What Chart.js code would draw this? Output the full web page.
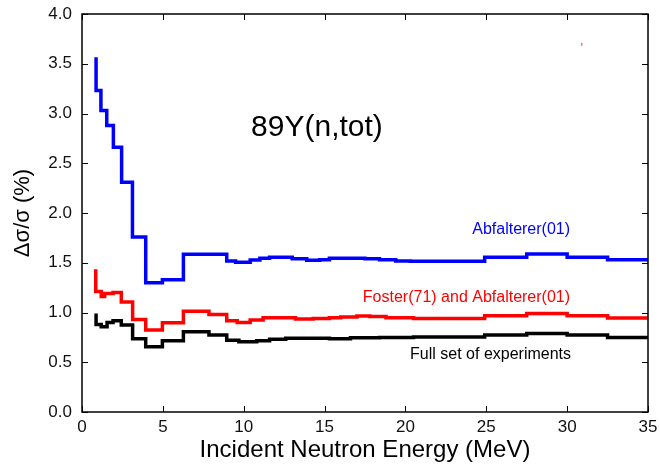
<!DOCTYPE html>
<html>
<head>
<meta charset="utf-8">
<script src="https://cdn.jsdelivr.net/npm/chart.js@4/dist/chart.umd.min.js"></script>
<style>
  html, body { margin: 0; padding: 0; background: #fff; }
  #wrap { width: 660px; height: 468px; }
</style>
</head>
<body>
<div id="wrap"><canvas id="uncChart" width="660" height="468"></canvas></div>
<script>
// Energy bin edges (MeV) and relative uncertainty (%).
// value i holds between edge i-1 and edge i, value 0 is the starting spike
var abfEnergy = [0.87, 1.17, 1.53, 1.94, 2.45, 3.12, 3.94, 4.97, 6.27, 8.95, 9.5, 10.4, 11.0, 11.6, 12.2, 13.0, 13.9, 14.7, 15.3, 16.6, 17.5, 18.4, 19.4, 20.3, 24.9, 27.5, 30.0, 32.5, 35];
var abfUnc    = [3.565, 3.23, 3.03, 2.88, 2.66, 2.31, 1.76, 1.30, 1.33, 1.585, 1.517, 1.505, 1.528, 1.545, 1.555, 1.555, 1.54, 1.525, 1.53, 1.545, 1.545, 1.54, 1.53, 1.517, 1.515, 1.555, 1.588, 1.555, 1.53];

var fosEnergy = [0.85, 1.19, 1.40, 1.92, 2.43, 3.13, 3.94, 4.97, 6.27, 7.85, 8.95, 9.6, 10.4, 11.2, 12.2, 13.2, 14.3, 15.3, 16.0, 17.0, 17.8, 18.8, 20.5, 22.8, 24.9, 27.5, 30.0, 32.5, 35];
var fosUnc    = [1.434, 1.21, 1.16, 1.19, 1.20, 1.105, 0.93, 0.825, 0.898, 1.012, 0.98, 0.918, 0.90, 0.925, 0.948, 0.948, 0.935, 0.94, 0.948, 0.955, 0.965, 0.96, 0.948, 0.94, 0.94, 0.968, 0.99, 0.968, 0.945];

var allEnergy = [0.87, 1.19, 1.55, 1.92, 2.43, 3.13, 3.94, 4.97, 6.27, 7.85, 8.95, 9.7, 10.8, 11.6, 12.6, 14.0, 15.3, 16.6, 18.4, 20.5, 22.8, 24.9, 27.5, 30.0, 32.5, 35];
var allUnc    = [0.99, 0.88, 0.857, 0.90, 0.917, 0.874, 0.735, 0.656, 0.717, 0.807, 0.774, 0.722, 0.707, 0.717, 0.73, 0.74, 0.74, 0.737, 0.745, 0.75, 0.755, 0.755, 0.774, 0.79, 0.774, 0.75];

// stray red mark near the top right
var strayEnergy = [30.9, 30.9];
var strayUnc    = [3.68, 3.71];

var xTicks = [0, 5, 10, 15, 20, 25, 30, 35];
var yTicks = [0, 0.5, 1.0, 1.5, 2.0, 2.5, 3.0, 3.5, 4.0];

var FONT = '"Liberation Sans", Arial, Helvetica, sans-serif';

// text labels inside the plot, placed in data coordinates
var notes = [
    { text: '89Y(n,tot)', x: 14.53, y: 2.86, color: '#000', size: 30, align: 'center' },
    { text: 'Abfalterer(01)', x: 30.18, y: 1.83, color: '#0000ff', size: 16, align: 'right' },
    { text: 'Foster(71) and Abfalterer(01)', x: 30.18, y: 1.146, color: '#ff0000', size: 16, align: 'right' },
    { text: 'Full set of experiments', x: 30.24, y: 0.573, color: '#000', size: 16, align: 'right' }
];

function _toPoints(xs, ys){
    var pts = [];
    for (var i = 0; i < xs.length; i++){
        pts.push({ x: xs[i], y: ys[i] });
    }
    return pts;
}

// histogram corners: jump at the left edge, flat to the right edge
function _binPoints(xs, ys){
    var pts = [{ x: xs[0], y: ys[0] }];
    for (var i = 1; i < xs.length; i++){
        pts.push({ x: xs[i - 1], y: ys[i] });
        pts.push({ x: xs[i], y: ys[i] });
    }
    return pts;
}

function _stepSet(label, xs, ys, color){
    return {
        label: label,
        data: _binPoints(xs, ys),
        borderColor: color,
        backgroundColor: color,
        borderWidth: 3.5,
        pointRadius: 0,
        fill: false
    };
}

function _noPad(scale){
    scale.paddingTop = 0;
    scale.paddingBottom = 0;
    scale.paddingLeft = 0;
    scale.paddingRight = 0;
}

// box around plot area and inward pointing ticks, plus the text notes
var framePlugin = {
    id: 'frame',
    afterDatasetsDraw: function(chart){
        var ctx = chart.ctx;
        var a = chart.chartArea;
        var xs = chart.scales.x, ys = chart.scales.y;
        var tl = 6;
        ctx.save();
        ctx.strokeStyle = '#000';
        ctx.lineWidth = 1.5;
        ctx.strokeRect(a.left, a.top, a.right - a.left, a.bottom - a.top);
        ctx.lineWidth = 1;
        ctx.beginPath();
        xTicks.forEach(function(v){
            var px = Math.round(xs.getPixelForValue(v)) + 0.5;
            ctx.moveTo(px, a.bottom); ctx.lineTo(px, a.bottom - tl);
            ctx.moveTo(px, a.top); ctx.lineTo(px, a.top + tl);
        });
        yTicks.forEach(function(v){
            var py = Math.round(ys.getPixelForValue(v)) + 0.5;
            ctx.moveTo(a.left, py); ctx.lineTo(a.left + tl, py);
            ctx.moveTo(a.right, py); ctx.lineTo(a.right - tl, py);
        });
        ctx.stroke();

        ctx.textBaseline = 'middle';
        notes.forEach(function(n){
            ctx.font = n.size + 'px ' + FONT;
            ctx.fillStyle = n.color;
            ctx.textAlign = n.align;
            ctx.fillText(n.text, xs.getPixelForValue(n.x), ys.getPixelForValue(n.y));
        });
        ctx.restore();
    }
};

new Chart(document.getElementById('uncChart'), {
    type: 'line',
    data: {
        datasets: [
            _stepSet('Abfalterer(01)', abfEnergy, abfUnc, '#0000ff'),
            _stepSet('Foster(71) and Abfalterer(01)', fosEnergy, fosUnc, '#ff0000'),
            _stepSet('Full set of experiments', allEnergy, allUnc, '#000000'),
            {
                label: 'stray',
                data: _toPoints(strayEnergy, strayUnc),
                borderColor: 'rgba(255,80,80,0.8)',
                borderWidth: 1.5,
                pointRadius: 0
            }
        ]
    },
    options: {
        responsive: false,
        animation: false,
        devicePixelRatio: 1,
        layout: { padding: { top: 14, right: 12, left: 0, bottom: 0 } },
        plugins: {
            legend: { display: false },
            tooltip: { enabled: false }
        },
        scales: {
            x: {
                type: 'linear',
                min: 0,
                max: 35,
                afterBuildTicks: function(scale){
                    scale.ticks = xTicks.map(function(v){ return { value: v }; });
                },
                afterFit: function(scale){ scale.height = 56; _noPad(scale); },
                grid: { display: false, drawTicks: false },
                border: { display: false },
                ticks: {
                    padding: 5,
                    maxRotation: 0,
                    color: '#111',
                    font: { family: FONT, size: 17 }
                },
                title: {
                    display: true,
                    text: 'Incident Neutron Energy (MeV)',
                    color: '#000',
                    font: { family: FONT, size: 24 },
                    padding: { top: 0, bottom: 3 }
                }
            },
            y: {
                type: 'linear',
                min: 0,
                max: 4,
                afterBuildTicks: function(scale){
                    scale.ticks = yTicks.map(function(v){ return { value: v }; });
                },
                afterFit: function(scale){ scale.width = 82; _noPad(scale); },
                grid: { display: false, drawTicks: false },
                border: { display: false },
                ticks: {
                    padding: 10,
                    color: '#111',
                    font: { family: FONT, size: 17 },
                    callback: function(v){ return Number(v).toFixed(1); }
                },
                title: {
                    display: true,
                    text: 'Δσ/σ (%)',
                    color: '#000',
                    font: { family: FONT, size: 22 },
                    padding: { top: 10, bottom: 0 }
                }
            }
        }
    },
    plugins: [framePlugin]
});
</script>
</body>
</html>
